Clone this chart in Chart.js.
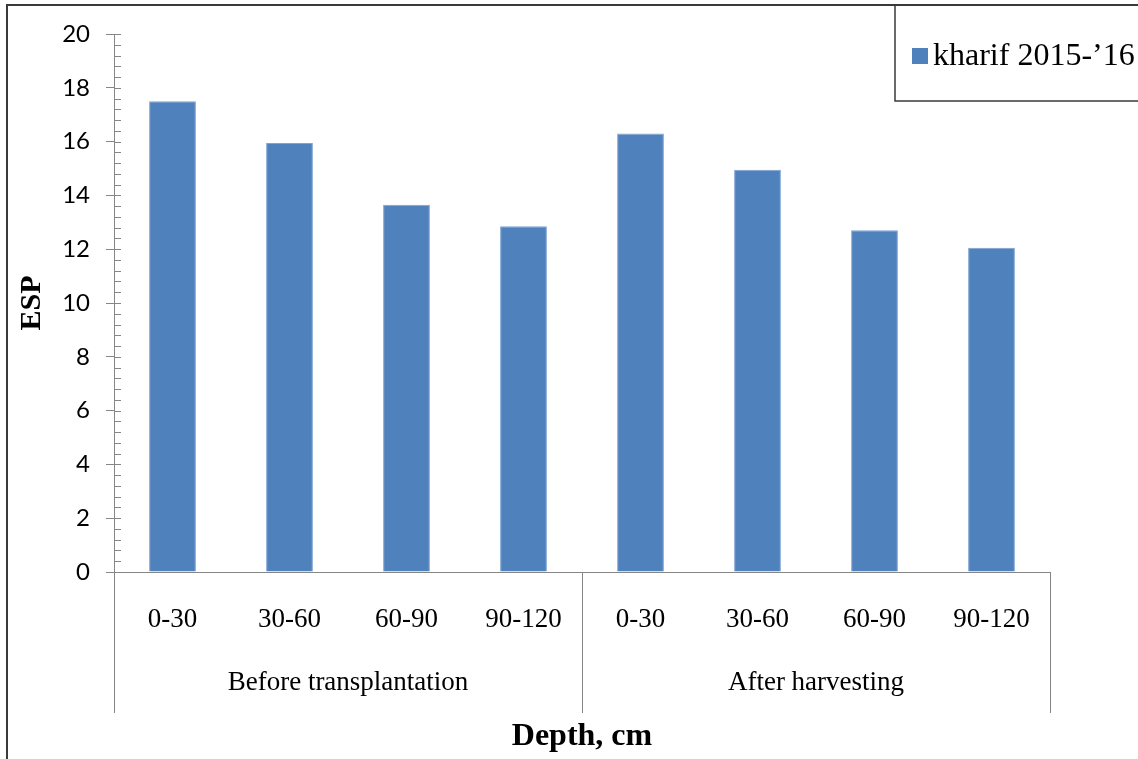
<!DOCTYPE html>
<html>
<head>
<meta charset="utf-8">
<script src="https://cdn.jsdelivr.net/npm/chart.js@4.4.1/dist/chart.umd.min.js"></script>
<style>
    html, body { margin: 0; padding: 0; background: #fff; }
    #wrap { width: 1138px; height: 759px; position: relative; }
</style>
</head>
<body>
<div id="wrap"><canvas id="grafico"></canvas></div>
<script>
// dados
const profundidades = ['0-30', '30-60', '60-90', '90-120', '0-30', '30-60', '60-90', '90-120'];
const grupos = ['Before transplantation', 'After harvesting'];
const valoresESP = [17.5, 15.95, 13.65, 12.85, 16.3, 14.95, 12.7, 12.05];
const rotuloSerie = 'kharif 2015-\u201916';
const ticksY = { min: 0, max: 20, passo: 2, menor: 0.4 };

const corBarra = '#4F81BD';
const corEixo = '#868686';
const serif = '"Liberation Serif", "Times New Roman", serif';

// desenha moldura, legenda, ticks menores e grupos do eixo x
const extras = {
    id: 'extras',
    beforeDraw(chart) {
        const ctx = chart.ctx;
        ctx.save();
        ctx.fillStyle = '#fff';
        ctx.fillRect(0, 0, chart.width, chart.height);
        ctx.restore();
    },
    afterDraw(chart) {
        const ctx = chart.ctx;
        const area = chart.chartArea;
        const x = chart.scales.x;
        const y = chart.scales.y;
        ctx.save();

        // moldura externa
        ctx.strokeStyle = '#3a3a3a';
        ctx.lineWidth = 2;
        ctx.strokeRect(7, 5, chart.width + 20, chart.height + 20);

        // ticks do eixo y (lado direito)
        ctx.strokeStyle = corEixo;
        ctx.lineWidth = 1;
        ctx.beginPath();
        for (let v = ticksY.min; v <= ticksY.max + 0.001; v += ticksY.menor) {
            const py = Math.round(y.getPixelForValue(v)) + 0.5;
            ctx.moveTo(area.left, py);
            ctx.lineTo(area.left + 7, py);
        }
        ctx.stroke();

        // separadores dos grupos
        const meio = (x.getPixelForValue(3) + x.getPixelForValue(4)) / 2;
        const fundo = area.bottom + 141;
        ctx.beginPath();
        [area.left, meio, area.right].forEach(function (px) {
            const p = Math.round(px) + 0.5;
            ctx.moveTo(p, area.bottom);
            ctx.lineTo(p, fundo);
        });
        ctx.stroke();

        // rótulos dos grupos
        ctx.fillStyle = '#000';
        ctx.font = '27px ' + serif;
        ctx.textAlign = 'center';
        ctx.textBaseline = 'middle';
        ctx.fillText(grupos[0], (x.getPixelForValue(0) + x.getPixelForValue(3)) / 2, area.bottom + 111);
        ctx.fillText(grupos[1], (x.getPixelForValue(4) + x.getPixelForValue(7)) / 2, area.bottom + 111);

        // legenda
        ctx.strokeStyle = '#3a3a3a';
        ctx.lineWidth = 1.5;
        ctx.strokeRect(895, 5, 300, 96);
        ctx.fillStyle = corBarra;
        ctx.fillRect(912, 48, 16, 16);
        ctx.fillStyle = '#000';
        ctx.font = '32px ' + serif;
        ctx.textAlign = 'left';
        ctx.textBaseline = 'alphabetic';
        ctx.fillText(rotuloSerie, 933, 65);

        ctx.restore();
    }
};

const ctx = document.getElementById('grafico').getContext('2d');
new Chart(ctx, {
    type: 'bar',
    data: {
        labels: profundidades,
        datasets: [{
            label: rotuloSerie,
            data: valoresESP,
            backgroundColor: corBarra,
            borderColor: '#7FA3D3',
            borderWidth: 1,
            barPercentage: 0.4,
            categoryPercentage: 1.0
        }]
    },
    options: {
        responsive: true,
        maintainAspectRatio: false,
        animation: false,
        layout: { padding: { top: 34, right: 88, left: 0, bottom: 0 } },
        plugins: {
            legend: { display: false },
            tooltip: { enabled: false }
        },
        scales: {
            x: {
                grid: { display: false },
                border: { display: true, color: corEixo, width: 1 },
                ticks: {
                    color: '#000',
                    padding: 24,
                    maxRotation: 0,
                    autoSkip: false,
                    font: { family: serif, size: 27 }
                },
                title: {
                    display: true,
                    text: 'Depth, cm',
                    color: '#000',
                    padding: { top: 3, bottom: 3 },
                    font: { family: serif, size: 32, weight: 'bold' }
                },
                afterFit: function (scale) { scale.height = 187; }
            },
            y: {
                min: ticksY.min,
                max: ticksY.max,
                ticks: {
                    stepSize: ticksY.passo,
                    color: '#000',
                    padding: 16,
                    font: { family: 'Lato, "Liberation Sans", sans-serif', size: 24 }
                },
                grid: {
                    drawOnChartArea: false,
                    drawTicks: true,
                    tickLength: 8,
                    color: corEixo
                },
                border: { display: true, color: corEixo, width: 1 },
                title: {
                    display: true,
                    text: 'ESP',
                    color: '#000',
                    padding: { top: 14, bottom: 14 },
                    font: { family: serif, size: 30, weight: 'bold' }
                },
                afterFit: function (scale) { scale.width = 114; }
            }
        }
    },
    plugins: [extras]
});
</script>
</body>
</html>
